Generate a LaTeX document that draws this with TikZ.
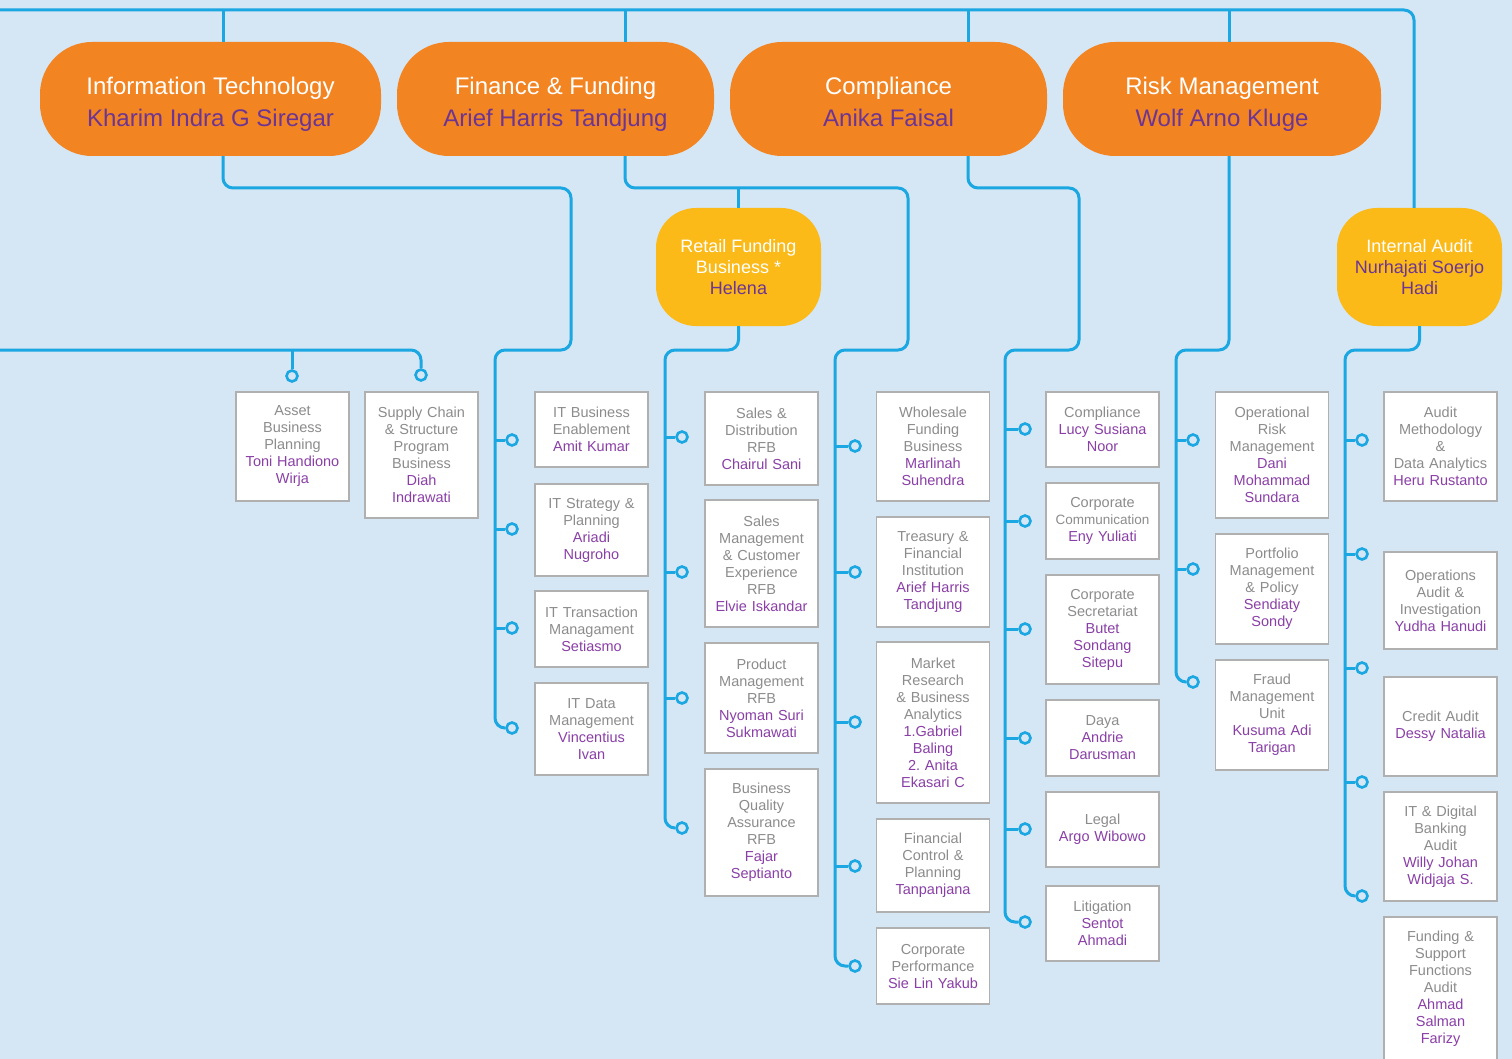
\documentclass[tikz,border=0pt]{standalone}
\usepackage{fontspec}
\setmainfont{Liberation Sans}
\frenchspacing
\definecolor{bgc}{HTML}{D5E6F5}
\definecolor{linec}{HTML}{1BA7E1}
\definecolor{orangec}{HTML}{F38422}
\definecolor{yellowc}{HTML}{FBBA18}
\definecolor{purc}{HTML}{8A3FA6}
\definecolor{darkpur}{HTML}{6C3593}
\definecolor{greyc}{HTML}{8C8C8C}
\definecolor{boxc}{HTML}{B0B0B0}
\newcommand\pname[1]{\textcolor{purc}{#1}}
\newcommand\hname[1]{\textcolor{darkpur}{#1}}
% two-line heading text with fixed line extents, so every heading sits alike
\newcommand\headtext[2]{\rule{0pt}{29pt}#1\\\hname{#2}\rule[-6pt]{0pt}{6pt}}
\begin{document}
\begin{tikzpicture}[x=1pt,y=-1pt,
  conn/.style={draw=linec, line width=3pt, rounded corners=10pt},
  stub/.style={draw=linec, line width=3pt},
  dot/.style={circle, draw=linec, line width=2.6pt, fill=bgc, minimum size=11pt, inner sep=0pt},
  unit/.style={draw=boxc, line width=1.2pt, fill=white, minimum width=113pt, minimum height=#1,
    text width=110pt, align=center, inner sep=0pt, text=greyc, font=\fontsize{14.5}{17}\selectfont},
  head/.style={fill=orangec, rounded corners=52pt, minimum height=114pt, minimum width=#1,
    align=center, text=white, inner sep=0pt, font=\fontsize{24}{32}\selectfont},
  sub/.style={fill=yellowc, rounded corners=40pt, minimum width=165pt, minimum height=118pt,
    align=center, text=white, inner sep=0pt, font=\fontsize{18}{21}\selectfont}]

\fill[bgc] (0,0) rectangle (1512,1059);
\useasboundingbox (0,0) rectangle (1512,1059);
\clip (0,0) rectangle (1512,1059);

% division heads
\node[head=341] (it)   at (210.5,99) {\headtext{Information Technology}{Kharim Indra G Siregar}};
\node[head=317] (fin)  at (555.5,99) {\headtext{Finance \& Funding}{Arief Harris Tandjung}};
\node[head=317] (comp) at (888.5,99) {\headtext{Compliance}{Anika Faisal}};
\node[head=318] (risk) at (1222,99)  {\headtext{Risk Management}{Wolf Arno Kluge}};

% sub-division heads
\node[sub] (rfb) at (738.5,267)  {Retail Funding\\Business *\\\hname{Helena}};
\node[sub] (ia)  at (1419.5,267) {Internal Audit\\\hname{Nurhajati Soerjo}\\\hname{Hadi}};

% units without a head on this page
\node[unit=109] (asset)  at (292.5,446.5) {Asset\\Business\\Planning\\\pname{Toni Handiono}\\\pname{Wirja}};
\node[unit=126] (supply) at (421.5,455)   {Supply Chain\\\& Structure\\Program\\Business\\\pname{Diah}\\\pname{Indrawati}};

% information technology units
\node[unit=75] (itb) at (591.5,429.5) {IT Business\\Enablement\\\pname{Amit Kumar}};
\node[unit=92] (its) at (591.5,530)   {IT Strategy \&\\Planning\\\pname{Ariadi}\\\pname{Nugroho}};
\node[unit=76] (itt) at (591.5,629)   {IT Transaction\\Managament\\\pname{Setiasmo}};
\node[unit=92] (itd) at (591.5,729)   {IT Data\\Management\\\pname{Vincentius}\\\pname{Ivan}};

% retail funding units
\node[unit=93]  (sd) at (761.5,438.5) {Sales \&\\Distribution\\RFB\\\pname{Chairul Sani}};
\node[unit=127] (sm) at (761.5,563.5) {Sales\\Management\\\& Customer\\Experience\\RFB\\\pname{Elvie Iskandar}};
\node[unit=110] (pm) at (761.5,698)   {Product\\Management\\RFB\\\pname{Nyoman Suri}\\\pname{Sukmawati}};
\node[unit=127] (bq) at (761.5,832.5) {Business\\Quality\\Assurance\\RFB\\\pname{Fajar}\\\pname{Septianto}};

% finance units
\node[unit=109] (wf) at (933,446.5) {Wholesale\\Funding\\Business\\\pname{Marlinah}\\\pname{Suhendra}};
\node[unit=110] (tf) at (933,572)   {Treasury \&\\Financial\\Institution\\\pname{Arief Harris}\\\pname{Tandjung}};
\node[unit=161] (mr) at (933,722.5) {Market\\Research\\\& Business\\Analytics\\\pname{1.Gabriel}\\\pname{Baling}\\\pname{2. Anita}\\\pname{Ekasari C}};
\node[unit=93]  (fc) at (933,865.5) {Financial\\Control \&\\Planning\\\pname{Tanpanjana}};
\node[unit=76]  (cp) at (933,966)   {Corporate\\Performance\\\pname{Sie Lin Yakub}};

% compliance units
\node[unit=75]  (cmp)  at (1102.5,429.5) {Compliance\\\pname{Lucy Susiana}\\\pname{Noor}};
\node[unit=76]  (cc)   at (1102.5,521)   {Corporate\\{\fontsize{13.5}{17}\selectfont Communication}\\\pname{Eny Yuliati}};
\node[unit=109] (cs)   at (1102.5,629.5) {Corporate\\Secretariat\\\pname{Butet}\\\pname{Sondang}\\\pname{Sitepu}};
\node[unit=76]  (daya) at (1102.5,738)   {Daya\\\pname{Andrie}\\\pname{Darusman}};
\node[unit=75]  (leg)  at (1102.5,829.5) {Legal\\\pname{Argo Wibowo}};
\node[unit=75]  (lit)  at (1102.5,923.5) {Litigation\\\pname{Sentot}\\\pname{Ahmadi}};

% risk units
\node[unit=126] (orm) at (1272,455) {Operational\\Risk\\Management\\\pname{Dani}\\\pname{Mohammad}\\\pname{Sundara}};
\node[unit=110] (pmp) at (1272,589) {Portfolio\\Management\\\& Policy\\\pname{Sendiaty}\\\pname{Sondy}};
\node[unit=110] (fmu) at (1272,715) {Fraud\\Management\\Unit\\\pname{Kusuma Adi}\\\pname{Tarigan}};

% audit units
\node[unit=109] (amd) at (1440.5,446.5) {Audit\\Methodology\\\&\\Data Analytics\\\pname{Heru Rustanto}};
\node[unit=97]  (oai) at (1440.5,600.5) {Operations\\Audit \&\\Investigation\\\pname{Yudha Hanudi}};
\node[unit=99]  (ca)  at (1440.5,726.5) {Credit Audit\\\pname{Dessy Natalia}};
\node[unit=109] (ida) at (1440.5,846.5) {IT \& Digital\\Banking\\Audit\\\pname{Willy Johan}\\\pname{Widjaja S.}};
\node[unit=143] (fsa) at (1440.5,988.5) {Funding \&\\Support\\Functions\\Audit\\\pname{Ahmad}\\\pname{Salman}\\\pname{Farizy}};

% connector ends
\node[dot] (asc) at (292,376) {};
\node[dot] (supc) at (421,375) {};
\foreach \i/\y in {1/440,2/529,3/628,4/728} \node[dot] (itc\i) at (512,\y) {};
\foreach \i/\y in {1/437,2/572,3/698,4/828} \node[dot] (rfbc\i) at (682,\y) {};
\foreach \i/\y in {1/446,2/572,3/722,4/866,5/966} \node[dot] (finc\i) at (855,\y) {};
\foreach \i/\y in {1/429,2/521,3/629,4/738,5/829,6/922} \node[dot] (compc\i) at (1025,\y) {};
\foreach \i/\y in {1/440,2/569,3/682} \node[dot] (riskc\i) at (1193,\y) {};
\foreach \i/\y in {1/440,2/554,3/668,4/782,5/896} \node[dot] (iac\i) at (1362,\y) {};

% routing points
\coordinate (topL) at (0,10);
\coordinate (leftL) at (0,350);
\coordinate (xIT) at (223,0);
\coordinate (xFin) at (625,0);
\coordinate (xComp) at (968,0);
\coordinate (xRisk) at (1229,0);
\coordinate (itBend) at (571,188);
\coordinate (itTrunk) at (495,350);
\coordinate (finBend) at (908,188);
\coordinate (finTrunk) at (835,350);
\coordinate (rfbTrunk) at (665,350);
\coordinate (compBend) at (1079,188);
\coordinate (compTrunk) at (1005,350);
\coordinate (riskTrunk) at (1176,350);
\coordinate (iaTrunk) at (1345,350);

% top bus
\draw[conn] (topL) -| ([xshift=-5.5pt]ia.north);
\foreach \n/\x in {it/xIT, fin/xFin, comp/xComp, risk/xRisk}
  \draw[stub] (\n.north -| \x) -- (topL -| \x);

% left bus
\draw[conn] (leftL) -| (supc.north);
\draw[stub] (asc.north) -- (asc.north |- leftL);

% information technology
\draw[conn] (it.south -| xIT) |- (itBend) |- (itTrunk) |- (itc4.west);
\foreach \i in {1,2,3} \draw[stub] (itc\i.west) -- (itc\i.west -| itTrunk);

% finance and retail funding
\draw[conn] (fin.south -| xFin) |- (finBend) |- (finTrunk) |- (finc5.west);
\foreach \i in {1,2,3,4} \draw[stub] (finc\i.west) -- (finc\i.west -| finTrunk);
\draw[stub] (rfb.north) -- (rfb.north |- finBend);
\draw[conn] (rfb.south) |- (rfbTrunk) |- (rfbc4.west);
\foreach \i in {1,2,3} \draw[stub] (rfbc\i.west) -- (rfbc\i.west -| rfbTrunk);

% compliance
\draw[conn] (comp.south -| xComp) |- (compBend) |- (compTrunk) |- (compc6.west);
\foreach \i in {1,2,3,4,5} \draw[stub] (compc\i.west) -- (compc\i.west -| compTrunk);

% risk
\draw[conn] (risk.south -| xRisk) |- (riskTrunk) |- (riskc3.west);
\foreach \i in {1,2} \draw[stub] (riskc\i.west) -- (riskc\i.west -| riskTrunk);

% internal audit
\draw[conn] (ia.south) |- (iaTrunk) |- (iac5.west);
\foreach \i in {1,2,3,4} \draw[stub] (iac\i.west) -- (iac\i.west -| iaTrunk);
\end{tikzpicture}
\end{document}
